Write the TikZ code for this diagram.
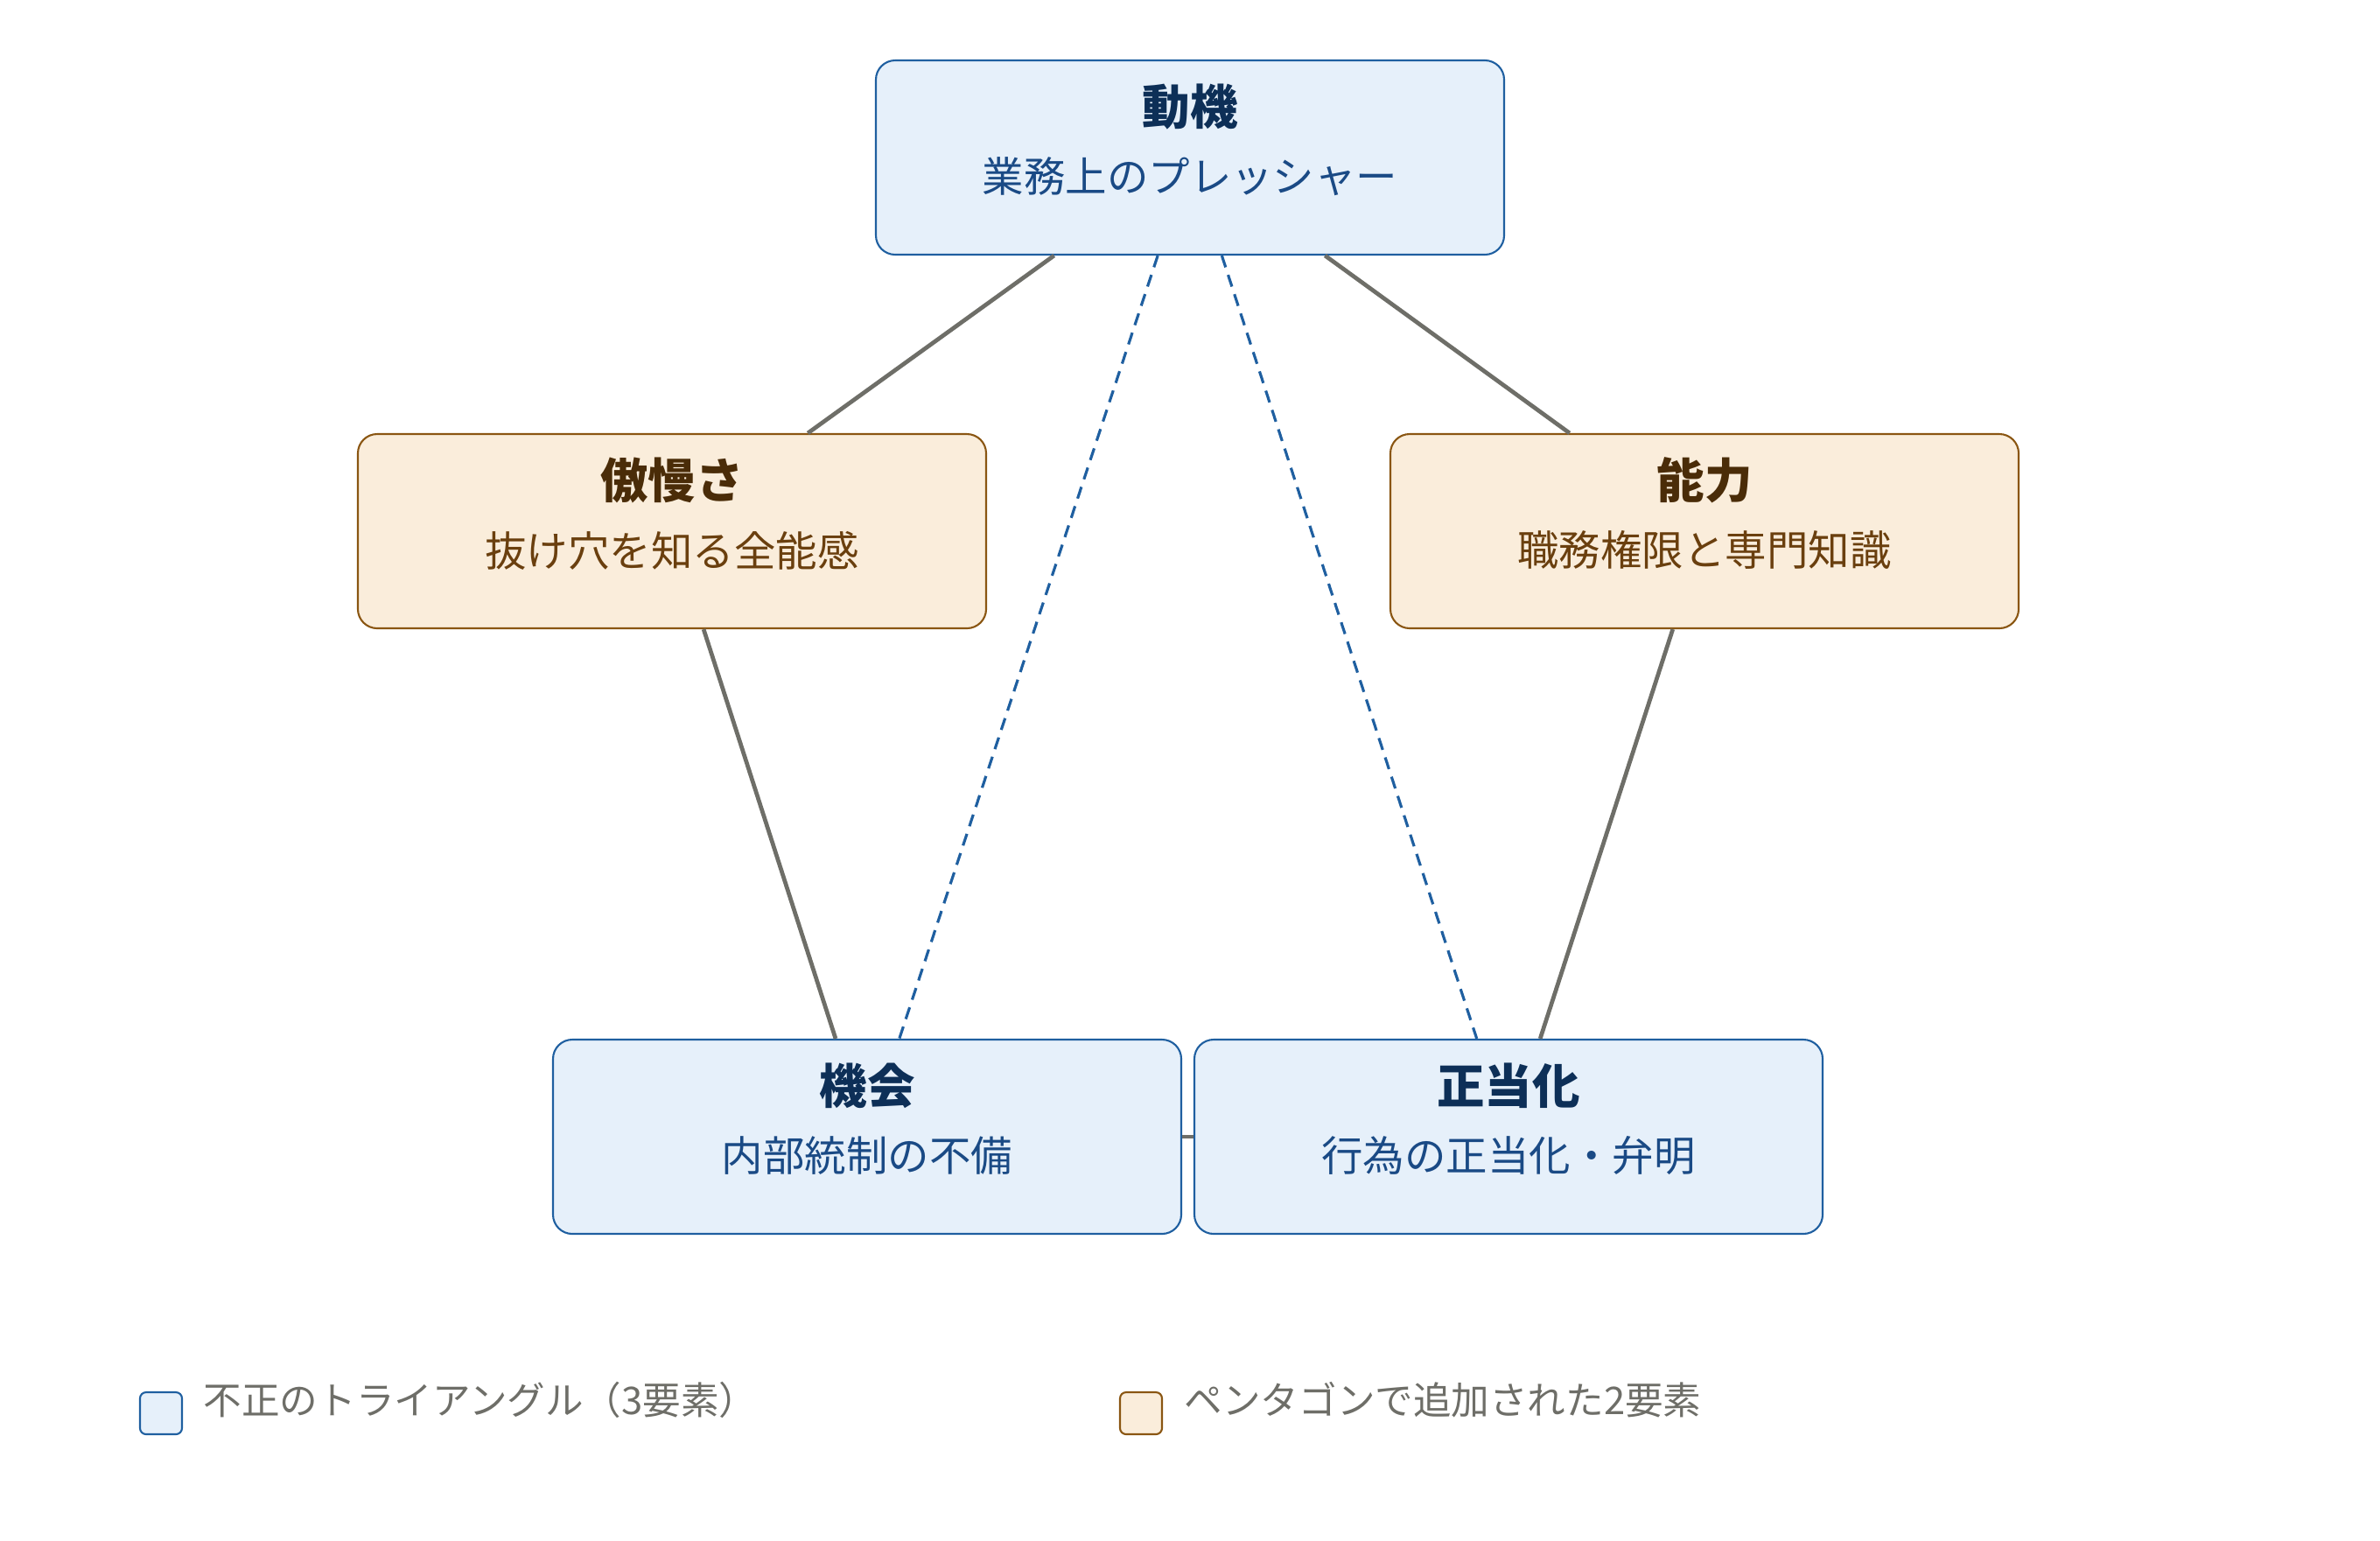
\documentclass[tikz,border=0pt]{standalone}
\usepackage{fontspec}
\setmainfont{Noto Sans CJK JP}
\usetikzlibrary{positioning}
\definecolor{triFill}{HTML}{E6F0FA}
\definecolor{triLine}{HTML}{1F5FA0}
\definecolor{triHead}{HTML}{0D2F57}
\definecolor{triText}{HTML}{1A4A85}
\definecolor{penFill}{HTML}{FAEDDB}
\definecolor{penLine}{HTML}{8A5612}
\definecolor{penHead}{HTML}{4A2C08}
\definecolor{penText}{HTML}{6A3F0E}
\definecolor{edgeGrey}{HTML}{6E6E68}

\begin{document}
\begin{tikzpicture}[
    box/.style={rectangle,rounded corners=0.22cm,minimum width=7.18cm,minimum height=2.22cm,line width=0.6pt},
    tribox/.style={box,draw=triLine,fill=triFill},
    penbox/.style={box,draw=penLine,fill=penFill},
    head/.style={font=\fontsize{15.5}{18}\selectfont\bfseries,inner sep=0pt},
    sub/.style={font=\fontsize{13.5}{16}\selectfont,inner sep=0pt},
    link/.style={edgeGrey,line width=1.35pt},
    tri/.style={triLine,line width=0.9pt,dash pattern=on 4pt off 2.6pt},
    swatch/.style={rectangle,rounded corners=0.07cm,minimum size=0.48cm,line width=0.6pt,inner sep=0pt},
    legend/.style={font=\fontsize{12.4}{14}\selectfont,text=edgeGrey,anchor=west,inner sep=0pt}
]
    \useasboundingbox (0,0) rectangle (27.2,-17.6);

    \node[tribox] (motive) at (13.60,-1.80) {};
    \node[penbox] (ego) at (7.68,-6.07) {};
    \node[penbox] (skill) at (19.48,-6.07) {};
    \node[tribox] (chance) at (9.91,-12.99) {};
    \node[tribox] (excuse) at (17.24,-12.99) {};

    \node[head,text=triHead] (motive-h) at ([yshift=-0.54cm]motive.north) {動機};
    \node[sub,text=triText] (motive-s) at ([yshift=-1.34cm]motive.north) {業務上のプレッシャー};
    \node[head,text=penHead] (ego-h) at ([yshift=-0.54cm]ego.north) {傲慢さ};
    \node[sub,text=penText] (ego-s) at ([yshift=-1.34cm]ego.north) {抜け穴を知る全能感};
    \node[head,text=penHead] (skill-h) at ([yshift=-0.54cm]skill.north) {能力};
    \node[sub,text=penText] (skill-s) at ([yshift=-1.34cm]skill.north) {職務権限と専門知識};
    \node[head,text=triHead] (chance-h) at ([yshift=-0.54cm]chance.north) {機会};
    \node[sub,text=triText] (chance-s) at ([yshift=-1.34cm]chance.north) {内部統制の不備};
    \node[head,text=triHead] (excuse-h) at ([yshift=-0.54cm]excuse.north) {正当化};
    \node[sub,text=triText] (excuse-s) at ([yshift=-1.34cm]excuse.north) {行為の正当化・弁明};

    \draw[link] (motive) -- (ego);
    \draw[link] (motive) -- (skill);
    \draw[link] (ego) -- (chance);
    \draw[link] (skill) -- (excuse);
    \draw[link] (chance) -- (excuse);
    \draw[tri] (motive) -- (chance);
    \draw[tri] (motive) -- (excuse);

    \node[swatch,draw=triLine,fill=triFill] (key-tri) at (1.84,-16.15) {};
    \node[legend] (key-tri-t) at (2.32,-16.00) {不正のトライアングル（3要素）};
    \node[swatch,draw=penLine,fill=penFill] (key-pen) at (13.04,-16.15) {};
    \node[legend] (key-pen-t) at (13.53,-16.00) {ペンタゴンで追加された2要素};
\end{tikzpicture}
\end{document}
